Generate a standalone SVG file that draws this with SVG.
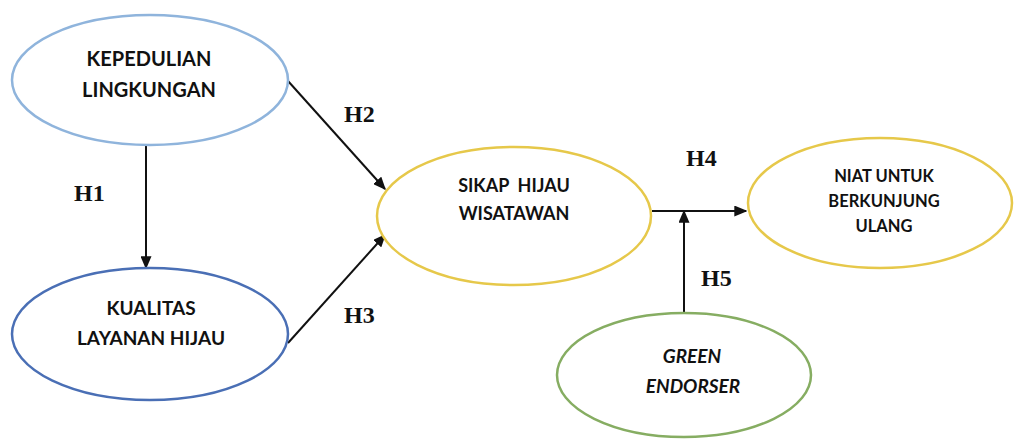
<svg xmlns="http://www.w3.org/2000/svg" width="1014" height="439" viewBox="0 0 1014 439">
<defs>
<style>
.node{fill:#fff;stroke-width:2.5}
.lbl{font-family:Lato,"Open Sans","Liberation Sans",sans-serif;font-weight:700;fill:#111;text-anchor:middle}
.hyp{font-family:"Liberation Serif","Times New Roman",serif;font-weight:700;font-size:24px;fill:#111}
.edge{stroke:#111;stroke-width:2;fill:none;marker-end:url(#ah)}
</style>
<marker id="ah" viewBox="0 0 10 10" refX="9" refY="5" markerWidth="13" markerHeight="11" markerUnits="userSpaceOnUse" orient="auto" preserveAspectRatio="none">
<path d="M0,0 L10,5 L0,10 Z" fill="#111"/>
</marker>
</defs>
<rect width="1014" height="439" fill="#fff"/>
<g id="connectors">
<line class="edge" x1="146" y1="146" x2="146" y2="268"/>
<line class="edge" x1="288" y1="81" x2="385" y2="189"/>
<line class="edge" x1="288" y1="343" x2="385" y2="235"/>
<line class="edge" x1="652" y1="211" x2="746" y2="211"/>
<line class="edge" x1="684" y1="313" x2="684" y2="211"/>
</g>
<g id="labels">
<text class="hyp" x="74" y="201">H1</text>
<text class="hyp" x="344" y="122">H2</text>
<text class="hyp" x="344" y="323">H3</text>
<text class="hyp" x="686" y="166">H4</text>
<text class="hyp" x="701" y="286">H5</text>
</g>
<g id="kepedulian">
<ellipse class="node" cx="150" cy="80" rx="138" ry="65" stroke="#8fb4dc"/>
<text class="lbl" font-size="20" x="149" y="66">KEPEDULIAN</text>
<text class="lbl" font-size="20" x="149" y="97">LINGKUNGAN</text>
</g>
<g id="kualitas">
<ellipse class="node" cx="150" cy="334" rx="138" ry="66" stroke="#4a6fb5"/>
<text class="lbl" font-size="19" x="151" y="315">KUALITAS</text>
<text class="lbl" font-size="19" x="151" y="345">LAYANAN HIJAU</text>
</g>
<g id="sikap">
<ellipse class="node" cx="514" cy="216" rx="137" ry="69" stroke="#e6c84a"/>
<text class="lbl" font-size="18" x="514" y="192" xml:space="preserve">SIKAP  HIJAU</text>
<text class="lbl" font-size="18" x="514" y="220">WISATAWAN</text>
</g>
<g id="niat">
<ellipse class="node" cx="880" cy="203" rx="132" ry="65" stroke="#e6c84a"/>
<text class="lbl" font-size="16.5" x="884" y="182">NIAT UNTUK</text>
<text class="lbl" font-size="16.5" x="884" y="207">BERKUNJUNG</text>
<text class="lbl" font-size="16.5" x="884" y="232">ULANG</text>
</g>
<g id="green-endorser">
<ellipse class="node" cx="684" cy="375" rx="127" ry="62" stroke="#86ad62"/>
<text class="lbl" font-size="19" font-style="italic" x="692" y="363">GREEN</text>
<text class="lbl" font-size="19" font-style="italic" x="693" y="393">ENDORSER</text>
</g>
</svg>
